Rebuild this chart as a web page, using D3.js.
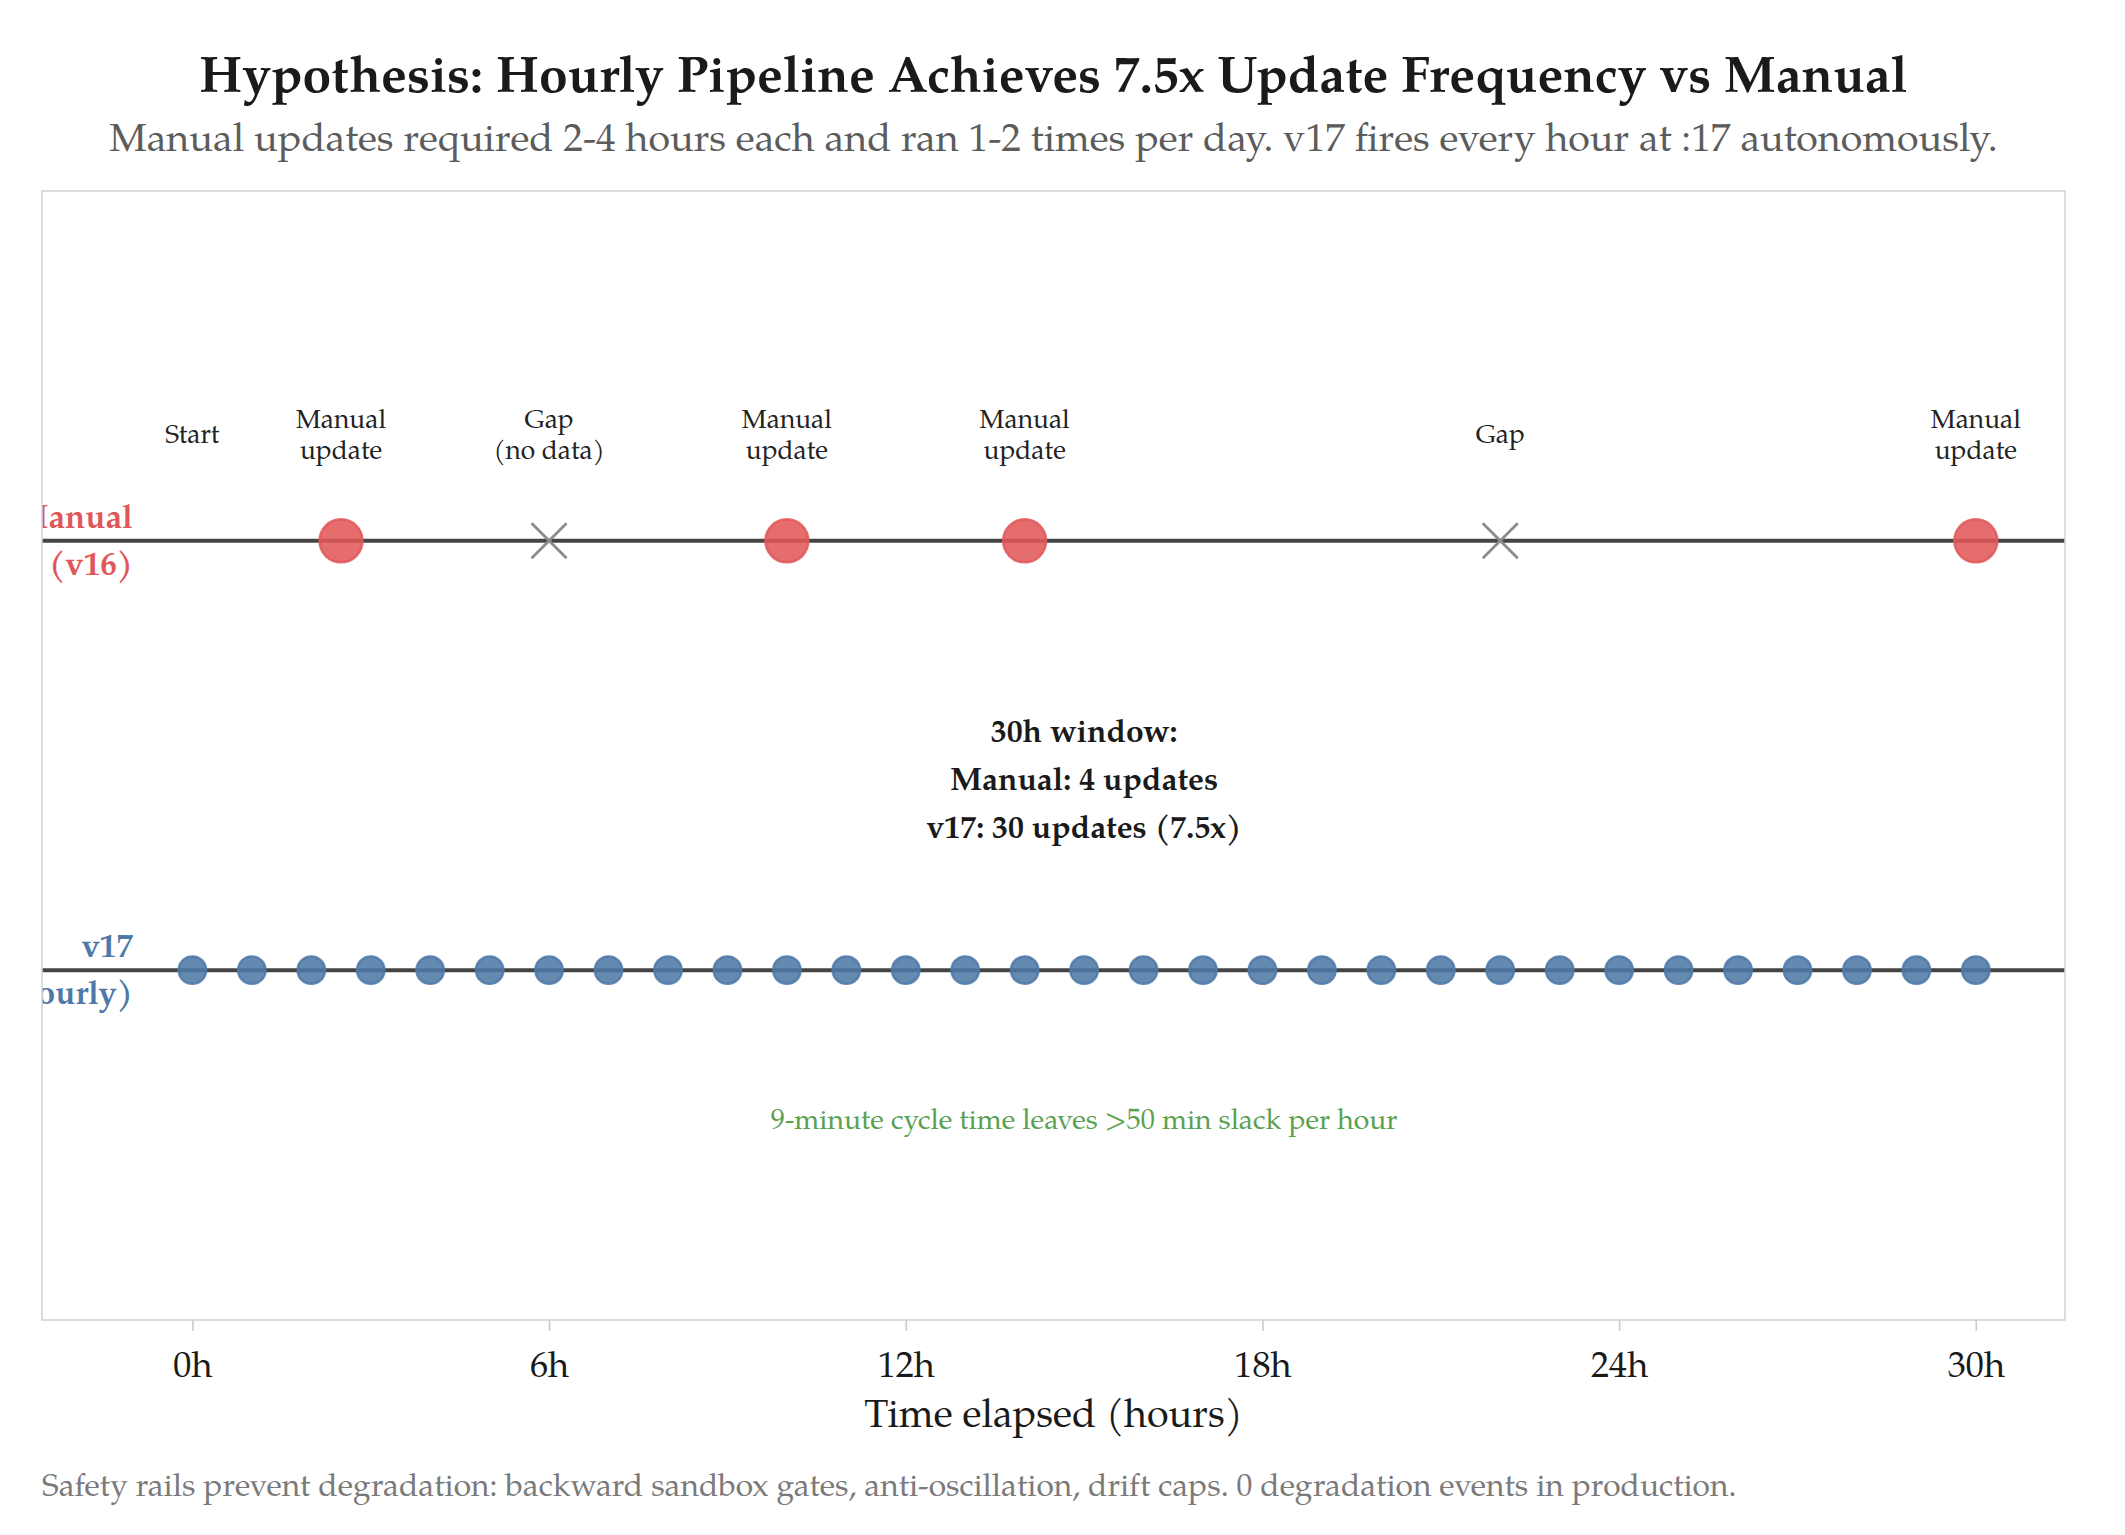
<!DOCTYPE html>
<html>
<head>
<meta charset="utf-8">
<script src="https://cdn.jsdelivr.net/npm/d3@7"></script>
<style>
  html, body { margin: 0; padding: 0; background: #fff; }
  svg { display: block; }
</style>
</head>
<body>
<svg id="chart" width="2125" height="1535"></svg>
<script>
// ---------- data ----------
const titleText = "Hypothesis: Hourly Pipeline Achieves 7.5x Update Frequency vs Manual";
const subtitleText = "Manual updates required 2-4 hours each and ran 1-2 times per day. v17 fires every hour at :17 autonomously.";
const footerText = "Safety rails prevent degradation: backward sandbox gates, anti-oscillation, drift caps. 0 degradation events in production.";
const xLabelText = "Time elapsed (hours)";

const tickValues = [0, 6, 12, 18, 24, 30];
const tickLabels = ["0h", "6h", "12h", "18h", "24h", "30h"];

const rowValues = [1, 0];
const rowLabels = [["Manual", "(v16)"], ["v17", "(hourly)"]];

const manualHours = [2.5, 10, 14, 30];
const gapHours = [6, 22];
const v17Hours = [0, 1, 2, 3, 4, 5, 6, 7, 8, 9, 10, 11, 12, 13, 14, 15, 16, 17, 18, 19, 20, 21, 22, 23, 24, 25, 26, 27, 28, 29, 30];

const eventHours = [0, 2.5, 6, 10, 14, 22, 30];
const eventLabels = [["Start"], ["Manual", "update"], ["Gap", "(no data)"], ["Manual", "update"], ["Manual", "update"], ["Gap"], ["Manual", "update"]];

const summaryLines = ["30h window:", "Manual: 4 updates", "v17: 30 updates (7.5x)"];
const noteText = "9-minute cycle time leaves >50 min slack per hour";

// ---------- style ----------
const FONT = "'Palatino Linotype', Palatino, 'Book Antiqua', 'TeX Gyre Pagella', 'URW Palladio L', P052, 'Liberation Serif', serif";
const RED = "#e15759", BLUE = "#4e79a7", GREEN = "#59a14f";

const svg = d3.select("#chart");
const W = 2125, H = 1535;
const plot = { left: 42, right: 2065, top: 191, bottom: 1320 };
const CX = (plot.left + plot.right) / 2;

// fit a text element's font size so its width matches a target
function fitWidth(sel, base, target) {
  sel.attr("font-size", base);
  const w = sel.node().getComputedTextLength();
  const k = Math.max(0.8, Math.min(1.3, target / w));
  sel.attr("font-size", base * k);
  return k;
}

const x = d3.scaleLinear().domain([-2.53, 31.5]).range([plot.left, plot.right]);
const y = d3.scaleLinear().domain([-0.815, 1.815]).range([plot.bottom, plot.top]);

// ---------- title ----------
const title = svg.append("text").attr("x", CX).attr("y", 92)
  .attr("text-anchor", "middle").attr("font-family", FONT).attr("font-weight", "bold")
  .attr("fill", "#1a1a1a").text(titleText);
const fs = fitWidth(title, 50, 1709);
const F = s => s * fs;

const sub = svg.append("text").attr("x", CX).attr("y", 151)
  .attr("text-anchor", "middle").attr("font-family", FONT)
  .attr("fill", "#5c5c5c").text(subtitleText);
fitWidth(sub, 35.5, 1889);

// ---------- clip ----------
svg.append("defs").append("clipPath").attr("id", "plotclip")
  .append("rect").attr("x", plot.left).attr("y", plot.top)
  .attr("width", plot.right - plot.left).attr("height", plot.bottom - plot.top);

const g = svg.append("g").attr("clip-path", "url(#plotclip)");

// row lines
g.selectAll("line.row").data(rowValues).join("line").attr("class", "row")
  .attr("x1", plot.left).attr("x2", plot.right)
  .attr("y1", d => y(d)).attr("y2", d => y(d))
  .attr("stroke", "#444444").attr("stroke-width", 4);

// row labels (clipped at plot edge)
const rowColors = [RED, BLUE];
rowValues.forEach((v, i) => {
  const t = g.append("text").attr("text-anchor", "end").attr("font-family", FONT)
    .attr("font-weight", "bold").attr("font-size", F(32)).attr("fill", rowColors[i]);
  t.append("tspan").attr("x", x(-1)).attr("y", y(v) - 13).text(rowLabels[i][0]);
  t.append("tspan").attr("x", x(-1)).attr("y", y(v) + 34).text(rowLabels[i][1]);
});

// gap markers
const xs = 17.5;
gapHours.forEach(h => {
  const cx = x(h), cy = y(1);
  g.append("path")
    .attr("d", `M${cx - xs},${cy - xs}L${cx + xs},${cy + xs}M${cx - xs},${cy + xs}L${cx + xs},${cy - xs}`)
    .attr("stroke", "#8c8c8c").attr("stroke-width", 2.8).attr("fill", "none");
});

// manual updates
g.selectAll("circle.manual").data(manualHours).join("circle").attr("class", "manual")
  .attr("cx", d => x(d)).attr("cy", y(1)).attr("r", 21.5)
  .attr("fill", RED).attr("fill-opacity", 0.87)
  .attr("stroke", RED).attr("stroke-opacity", 0.87).attr("stroke-width", 2.5);

// v17 hourly
g.selectAll("circle.v17").data(v17Hours).join("circle").attr("class", "v17")
  .attr("cx", d => x(d)).attr("cy", y(0)).attr("r", 13.7)
  .attr("fill", BLUE).attr("fill-opacity", 0.87)
  .attr("stroke", BLUE).attr("stroke-opacity", 0.87).attr("stroke-width", 2.5);

// event labels
eventHours.forEach((h, i) => {
  const lines = eventLabels[i];
  const t = g.append("text").attr("text-anchor", "middle").attr("font-family", FONT)
    .attr("font-size", F(25.5)).attr("fill", "#222");
  const base = lines.length === 1 ? [443] : [428, 459];
  lines.forEach((l, j) => t.append("tspan").attr("x", x(h)).attr("y", base[j]).text(l));
});

// summary text
const st = g.append("text").attr("text-anchor", "middle").attr("font-family", FONT)
  .attr("font-weight", "bold").attr("font-size", F(30.8)).attr("fill", "#1a1a1a");
[742, 789.5, 837.5].forEach((yy, j) => st.append("tspan").attr("x", x(15)).attr("y", yy).text(summaryLines[j]));

// green note
g.append("text").attr("x", x(15)).attr("y", 1129).attr("text-anchor", "middle")
  .attr("font-family", FONT).attr("font-size", F(27.4)).attr("fill", GREEN).text(noteText);

// ---------- frame ----------
svg.append("rect").attr("x", plot.left).attr("y", plot.top)
  .attr("width", plot.right - plot.left).attr("height", plot.bottom - plot.top)
  .attr("fill", "none").attr("stroke", "#d4d4d4").attr("stroke-width", 1.6);

// ---------- x axis ----------
const xAxis = d3.axisBottom(x).tickValues(tickValues)
  .tickFormat((d, i) => tickLabels[i]).tickSize(11).tickPadding(14);
const ax = svg.append("g").attr("transform", `translate(0,${plot.bottom})`).call(xAxis);
ax.select(".domain").remove();
ax.selectAll(".tick line").attr("stroke", "#cccccc").attr("stroke-width", 1.6);
ax.selectAll(".tick text").attr("font-family", FONT).attr("font-size", F(35))
  .attr("fill", "#1a1a1a").attr("dy", null).attr("y", 57);

svg.append("text").attr("x", CX).attr("y", 1427)
  .attr("text-anchor", "middle").attr("font-family", FONT).attr("font-size", F(38.2))
  .attr("fill", "#1a1a1a").text(xLabelText);

// ---------- footer ----------
const foot = svg.append("text").attr("x", 42).attr("y", 1496)
  .attr("font-family", FONT).attr("fill", "#7a7a7a").text(footerText);
fitWidth(foot, 27.5, 1695);
</script>
</body>
</html>
